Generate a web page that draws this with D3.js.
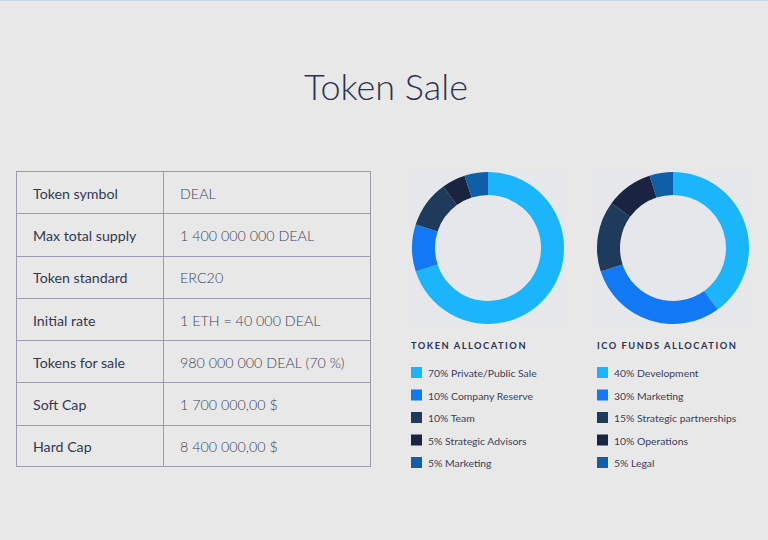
<!DOCTYPE html>
<html><head><meta charset="utf-8">
<script src="https://cdn.jsdelivr.net/npm/d3@7/dist/d3.min.js"></script>
<style>body{margin:0;background:#e8e8e8;}svg{display:block;}</style>
</head><body><svg id="c" width="768" height="540"></svg>
<script>
const tableLabels = ["Token symbol","Max total supply","Token standard","Initial rate","Tokens for sale","Soft Cap","Hard Cap"];
const tableValues = ["DEAL","1 400 000 000 DEAL","ERC20","1 ETH = 40 000 DEAL","980 000 000 DEAL (70 %)","1 700 000,00 $","8 400 000,00 $"];
const tokenLabels = ["Private/Public Sale","Company Reserve","Team","Strategic Advisors","Marketing"];
const tokenValues = [70,10,10,5,5];
const fundLabels = ["Development","Marketing","Strategic partnerships","Operations","Legal"];
const fundValues = [40,30,15,10,5];
const sliceColors = ["#1bb5fc","#1279f4","#1f3a5a","#1a2440","#0f5ea8"];

const svg = d3.select("#c");
svg.append("rect").attr("width",768).attr("height",540).attr("fill","#e8e8e8");
svg.append("rect").attr("width",768).attr("height",1).attr("fill","#c9d6e3");

svg.append("text").attr("x",386).attr("y",100).attr("text-anchor","middle")
  .attr("font-family","Lato").attr("font-weight",300).attr("font-size",36)
  .attr("fill","#2c3350").text("Token Sale");

// table
const tx0=16, tx1=371, tsplit=163, ty0=171, ty1=467;
const rowY = d3.scaleBand().domain(d3.range(tableLabels.length)).range([ty0,ty1]);
const tg = svg.append("g");
tg.append("rect").attr("x",tx0+0.5).attr("y",ty0+0.5).attr("width",tx1-tx0-1).attr("height",ty1-ty0-1)
  .attr("fill","none").attr("stroke","#9b9cae");
tg.append("line").attr("x1",tsplit+0.5).attr("x2",tsplit+0.5).attr("y1",ty0).attr("y2",ty1).attr("stroke","#9b9cae");
tableLabels.forEach((l,i)=>{
  if(i>0) tg.append("line").attr("x1",tx0).attr("x2",tx1).attr("y1",Math.round(rowY(i))+0.5).attr("y2",Math.round(rowY(i))+0.5).attr("stroke","#9b9cae");
  const cy = rowY(i)+rowY.bandwidth()/2+6.5;
  tg.append("text").attr("x",33).attr("y",cy).attr("font-family","Lato").attr("font-size",14.2).attr("fill","#323850").text(l);
  tg.append("text").attr("x",180).attr("y",cy).attr("font-family","Lato").attr("font-weight",300).attr("font-size",14.3).attr("fill","#3e4459").text(tableValues[i]);
});

function donut(cx, cy, values, labels, title, lx){
  const g = svg.append("g");
  g.append("rect").attr("x",cx-78).attr("y",cy-76).attr("width",155).attr("height",153).attr("fill","#e6e7eb");
  const pie = d3.pie().sort(null).value(d=>d);
  const arc = d3.arc().innerRadius(53).outerRadius(76);
  g.append("g").attr("transform",`translate(${cx},${cy})`).selectAll("path").data(pie(values)).join("path")
    .attr("d",arc).attr("fill",(d,i)=>sliceColors[i]);
  g.append("text").attr("x",lx).attr("y",349).attr("font-family","Lato").attr("font-weight",700)
    .attr("font-size",9.3).attr("letter-spacing",1.5).attr("fill","#2c3350").text(title);
  const ly = d3.scalePoint().domain(d3.range(values.length)).range([373,463]);
  values.forEach((v,i)=>{
    g.append("rect").attr("x",lx).attr("y",ly(i)-6).attr("width",11).attr("height",11).attr("fill",sliceColors[i]);
    g.append("text").attr("x",lx+17).attr("y",ly(i)+4).attr("font-family","Lato").attr("font-size",10.4)
      .attr("fill","#3a4058").text(v+"% "+labels[i]);
  });
}
donut(488,248,tokenValues,tokenLabels,"TOKEN ALLOCATION",411);
donut(673,248,fundValues,fundLabels,"ICO FUNDS ALLOCATION",597);
</script></body></html>
